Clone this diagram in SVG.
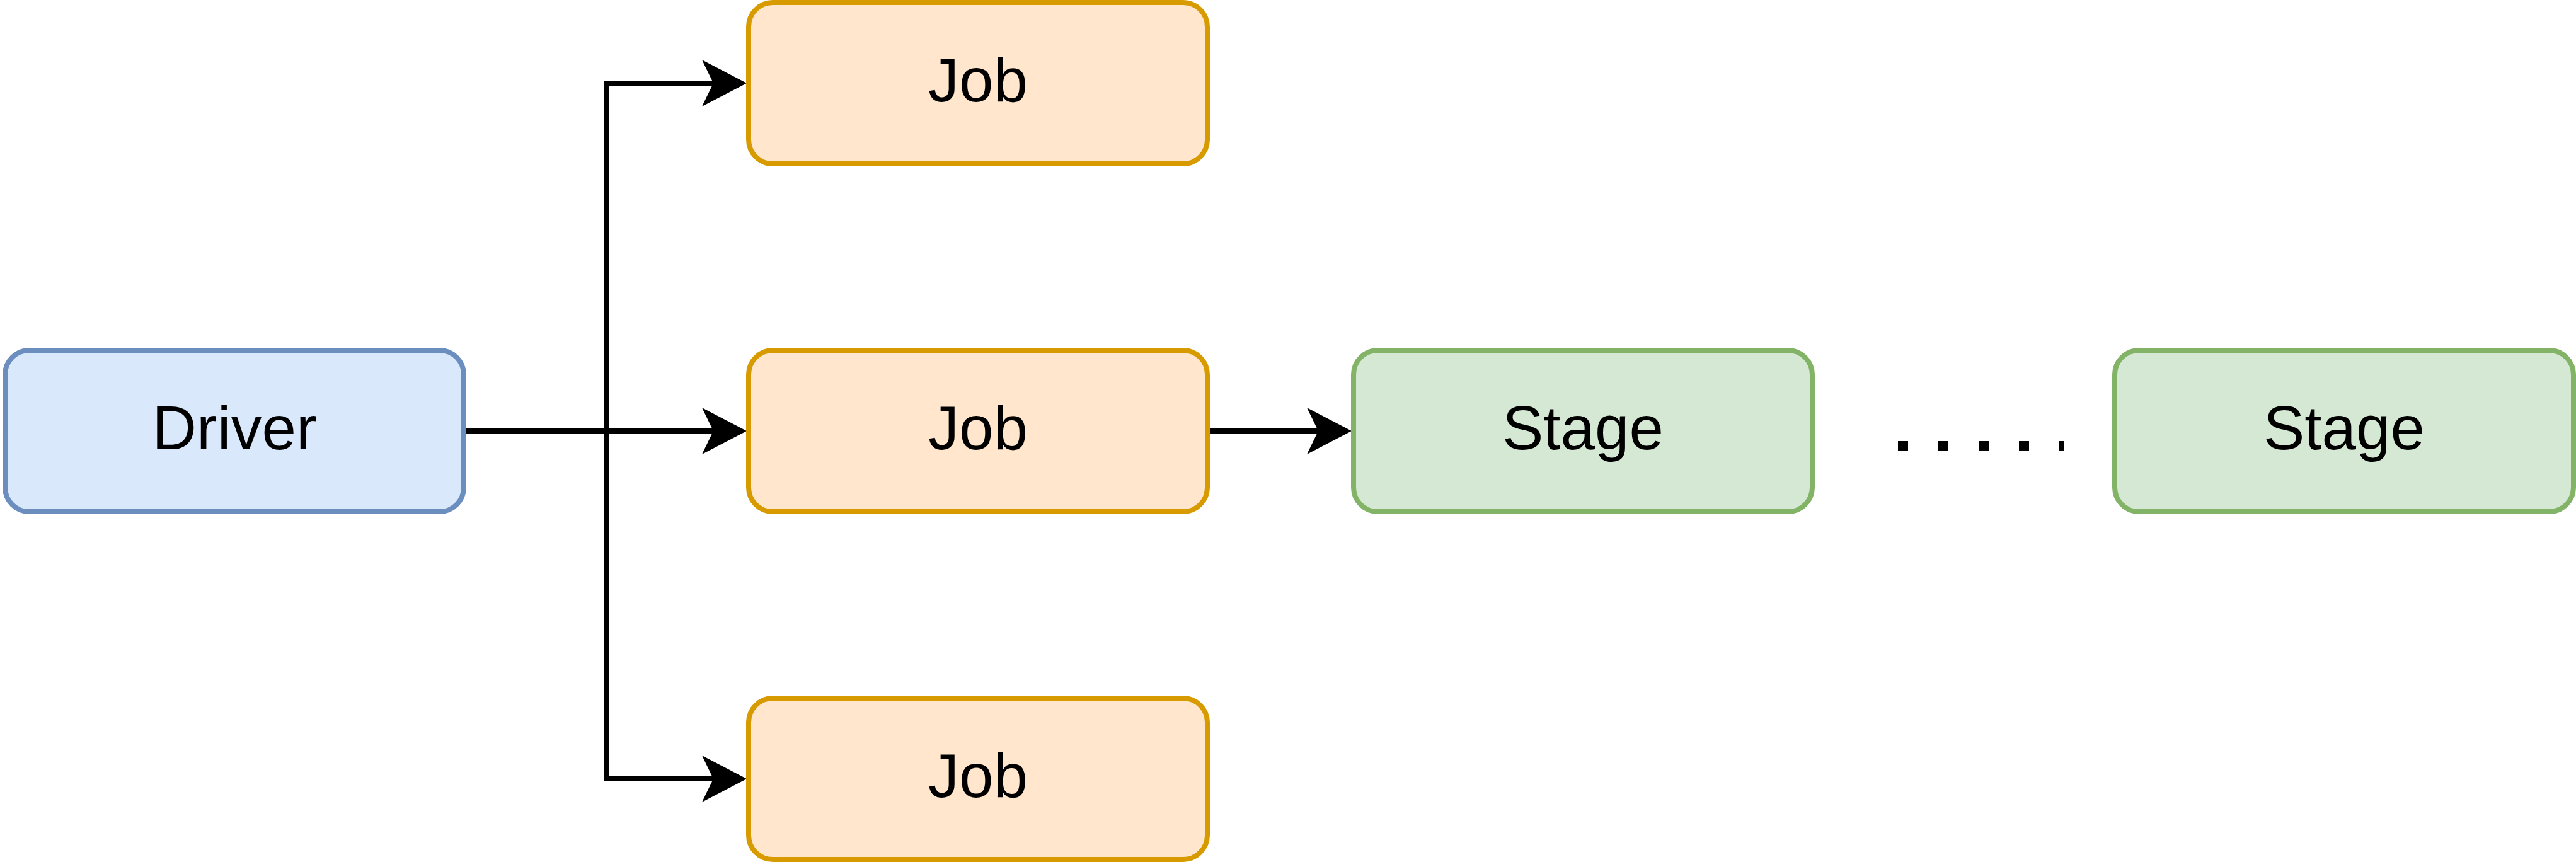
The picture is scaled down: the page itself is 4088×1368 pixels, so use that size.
<svg xmlns="http://www.w3.org/2000/svg" width="4088" height="1368" viewBox="0 0 4088 1368">
  <style>
    .box { stroke-width: 8; }
    .driver { fill: #dae8fc; stroke: #6c8ebf; }
    .job { fill: #ffe6cc; stroke: #d79b00; }
    .stage { fill: #d5e8d4; stroke: #82b366; }
    .label { font-family: "Liberation Sans", Arial, Helvetica, sans-serif; font-size: 98px; fill: #000000; text-anchor: middle; }
    .edge { fill: none; stroke: #000000; stroke-width: 8; stroke-linejoin: miter; }
    .dots { fill: none; stroke: #000000; stroke-width: 16; stroke-dasharray: 16 48; stroke-linecap: butt; }
  </style>
  <defs>
    <marker id="arrow" markerUnits="userSpaceOnUse" viewBox="0 -37 71 74" refX="18" refY="0" markerWidth="71" markerHeight="74" orient="auto" overflow="visible">
      <path d="M0,-37 L71,0 L0,37 L18,0 Z" fill="#000000"/>
    </marker>
  </defs>
  <rect width="4088" height="1368" fill="#ffffff"/>

  <g id="connectors">
    <path class="edge" d="M740,684 H1132" marker-end="url(#arrow)"/>
    <path class="edge" d="M740,684 H962.5 V132 H1132" marker-end="url(#arrow)"/>
    <path class="edge" d="M740,684 H962.5 V1236 H1132" marker-end="url(#arrow)"/>
    <path class="edge" d="M1920,684 H2092" marker-end="url(#arrow)"/>
    <line class="dots" x1="3012" y1="708" x2="3276" y2="708"/>
  </g>

  <g id="driver">
    <rect class="box driver" x="8" y="556" width="728" height="256" rx="38.4" ry="38.4"/>
    <text class="label" x="372" y="713">Driver</text>
  </g>

  <g id="job-top">
    <rect class="box job" x="1188" y="4" width="728" height="256" rx="38.4" ry="38.4"/>
    <text class="label" x="1552" y="161">Job</text>
  </g>

  <g id="job-middle">
    <rect class="box job" x="1188" y="556" width="728" height="256" rx="38.4" ry="38.4"/>
    <text class="label" x="1552" y="713">Job</text>
  </g>

  <g id="job-bottom">
    <rect class="box job" x="1188" y="1108" width="728" height="256" rx="38.4" ry="38.4"/>
    <text class="label" x="1552" y="1265">Job</text>
  </g>

  <g id="stage-1">
    <rect class="box stage" x="2148" y="556" width="728" height="256" rx="38.4" ry="38.4"/>
    <text class="label" x="2512" y="713">Stage</text>
  </g>

  <g id="stage-2">
    <rect class="box stage" x="3356" y="556" width="728" height="256" rx="38.4" ry="38.4"/>
    <text class="label" x="3720" y="713">Stage</text>
  </g>
</svg>
